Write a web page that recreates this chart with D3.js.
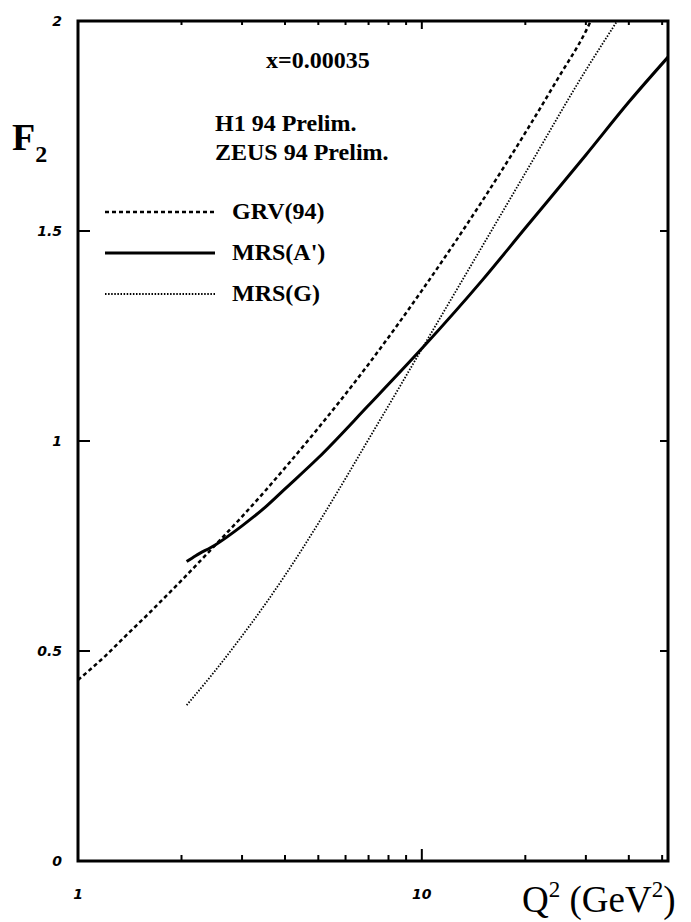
<!DOCTYPE html>
<html lang="en">
<head>
<meta charset="UTF-8">
<title>F2 vs Q2 at x=0.00035</title>
<script src="https://d3js.org/d3.v7.min.js"></script>
<style>
    body { margin: 0; background: #fff; }
    svg { display: block; }
    .frame { fill: none; stroke: #000; stroke-width: 3px; }
    .tick-mark { stroke: #000; stroke-width: 2px; }
    .tick-label { font-family: "DejaVu Sans", sans-serif; font-weight: bold; font-style: italic; font-size: 14px; }
    .note { font-family: "Liberation Serif", serif; font-weight: bold; font-size: 24px; }
    .curve { fill: none; stroke: #000; }
</style>
</head>
<body>
<svg id="chart"></svg>
<script>
    // values
    const grvQ  = [1, 1.2, 1.4, 1.6, 1.8, 2, 2.5, 3, 3.5, 4, 5, 7, 10, 15, 20, 25, 30, 31];
    const grvF  = [0.431, 0.488, 0.542, 0.588, 0.630, 0.668, 0.751, 0.820, 0.881, 0.936, 1.031, 1.183, 1.358, 1.572, 1.734, 1.866, 1.976, 2.0];
    const mrsAQ = [2.07, 2.2, 2.5, 3, 3.5, 4, 5, 7, 10, 15, 20, 30, 40, 52];
    const mrsAF = [0.713, 0.727, 0.752, 0.798, 0.842, 0.886, 0.960, 1.085, 1.22, 1.383, 1.507, 1.681, 1.807, 1.914];
    const mrsGQ = [2.07, 2.5, 3, 3.5, 4, 5, 6, 7, 8, 10, 15, 20, 30, 37];
    const mrsGF = [0.371, 0.452, 0.536, 0.611, 0.680, 0.804, 0.911, 1.004, 1.084, 1.219, 1.464, 1.638, 1.883, 2.0];

    const xTickLabels = [1, 10];
    const xMinorTicks = [2, 3, 4, 5, 6, 7, 8, 9, 20, 30, 40, 50];
    const yTickLabels = [0, 0.5, 1, 1.5, 2];

    const legendItems = [
        { name: "GRV(94)", q: grvQ, f: grvF, dash: "4,3", width: 2.5 },
        { name: "MRS(A')", q: mrsAQ, f: mrsAF, dash: null, width: 3 },
        { name: "MRS(G)", q: mrsGQ, f: mrsGF, dash: "1.5,1.6", width: 1.8 }
    ];

    const W = 691, H = 922;
    const plot = { left: 78, top: 21, right: 668, bottom: 861 };

    const svg = d3.select("#chart").attr("width", W).attr("height", H);
    svg.append("rect").attr("width", W).attr("height", H).attr("fill", "#fff");

    const x = d3.scaleLog().domain([1, 52]).range([plot.left, plot.right]);
    const y = d3.scaleLinear().domain([0, 2]).range([plot.bottom, plot.top]);

    svg.append("clipPath").attr("id", "clip")
        .append("rect")
        .attr("x", plot.left).attr("y", plot.top)
        .attr("width", plot.right - plot.left).attr("height", plot.bottom - plot.top);

    const line = d3.line()
        .x(d => x(d[0]))
        .y(d => y(d[1]))
        .curve(d3.curveMonotoneX);

    const curves = svg.append("g").attr("clip-path", "url(#clip)");
    legendItems.forEach(s => {
        curves.append("path")
            .attr("class", "curve")
            .attr("d", line(s.q.map((q, i) => [q, s.f[i]])))
            .attr("stroke-width", s.width)
            .attr("stroke-dasharray", s.dash);
    });

    // ticks, pointing inward
    const ticks = svg.append("g");
    xMinorTicks.forEach(v => {
        ticks.append("line").attr("class", "tick-mark")
            .attr("x1", x(v)).attr("x2", x(v)).attr("y1", plot.bottom).attr("y2", plot.bottom - 6);
        ticks.append("line").attr("class", "tick-mark")
            .attr("x1", x(v)).attr("x2", x(v)).attr("y1", plot.top).attr("y2", plot.top + 4);
    });
    ticks.append("line").attr("class", "tick-mark")
        .attr("x1", x(10)).attr("x2", x(10)).attr("y1", plot.bottom).attr("y2", plot.bottom - 12);
    ticks.append("line").attr("class", "tick-mark")
        .attr("x1", x(10)).attr("x2", x(10)).attr("y1", plot.top).attr("y2", plot.top + 8);
    [0.5, 1, 1.5].forEach(v => {
        ticks.append("line").attr("class", "tick-mark")
            .attr("x1", plot.left).attr("x2", plot.left + 12).attr("y1", y(v)).attr("y2", y(v));
        ticks.append("line").attr("class", "tick-mark")
            .attr("x1", plot.right).attr("x2", plot.right - 8).attr("y1", y(v)).attr("y2", y(v));
    });

    svg.append("rect").attr("class", "frame")
        .attr("x", plot.left).attr("y", plot.top)
        .attr("width", plot.right - plot.left).attr("height", plot.bottom - plot.top);

    // tick labels
    svg.selectAll(".ylab").data(yTickLabels).enter().append("text")
        .attr("class", "tick-label")
        .attr("x", 62).attr("y", d => y(d) + 5)
        .attr("text-anchor", "end")
        .text(d => d);
    svg.selectAll(".xlab").data(xTickLabels).enter().append("text")
        .attr("class", "tick-label")
        .attr("x", d => x(d)).attr("y", 899)
        .attr("text-anchor", "middle")
        .text(d => d);

    // axis titles
    const f2 = svg.append("text").attr("x", 12).attr("y", 150)
        .style("font-family", "Liberation Serif, serif").style("font-weight", "bold").style("font-size", "38px");
    f2.append("tspan").text("F");
    f2.append("tspan").attr("dy", 12).style("font-size", "24px").text("2");

    const q2 = svg.append("text").attr("x", 522).attr("y", 912)
        .style("font-family", "Liberation Serif, serif").style("font-size", "37px");
    q2.append("tspan").text("Q");
    q2.append("tspan").attr("dy", -15).style("font-size", "23px").text("2");
    q2.append("tspan").attr("dy", 15).text(" (GeV");
    q2.append("tspan").attr("dy", -15).style("font-size", "23px").text("2");
    q2.append("tspan").attr("dy", 15).text(")");

    // annotations
    svg.append("text").attr("class", "note").attr("x", 266).attr("y", 68).text("x=0.00035");
    svg.append("text").attr("class", "note").attr("x", 215).attr("y", 131).text("H1 94 Prelim.");
    svg.append("text").attr("class", "note").attr("x", 215).attr("y", 160).text("ZEUS 94 Prelim.");

    // legend
    const legend = svg.append("g");
    legendItems.forEach((s, i) => {
        const ly = 212 + i * 41;
        legend.append("line")
            .attr("x1", 105).attr("x2", 215).attr("y1", ly).attr("y2", ly)
            .attr("stroke", "#000")
            .attr("stroke-width", s.width)
            .attr("stroke-dasharray", s.dash);
        legend.append("text").attr("class", "note")
            .attr("x", 232).attr("y", ly + 7)
            .text(s.name);
    });
</script>
</body>
</html>
